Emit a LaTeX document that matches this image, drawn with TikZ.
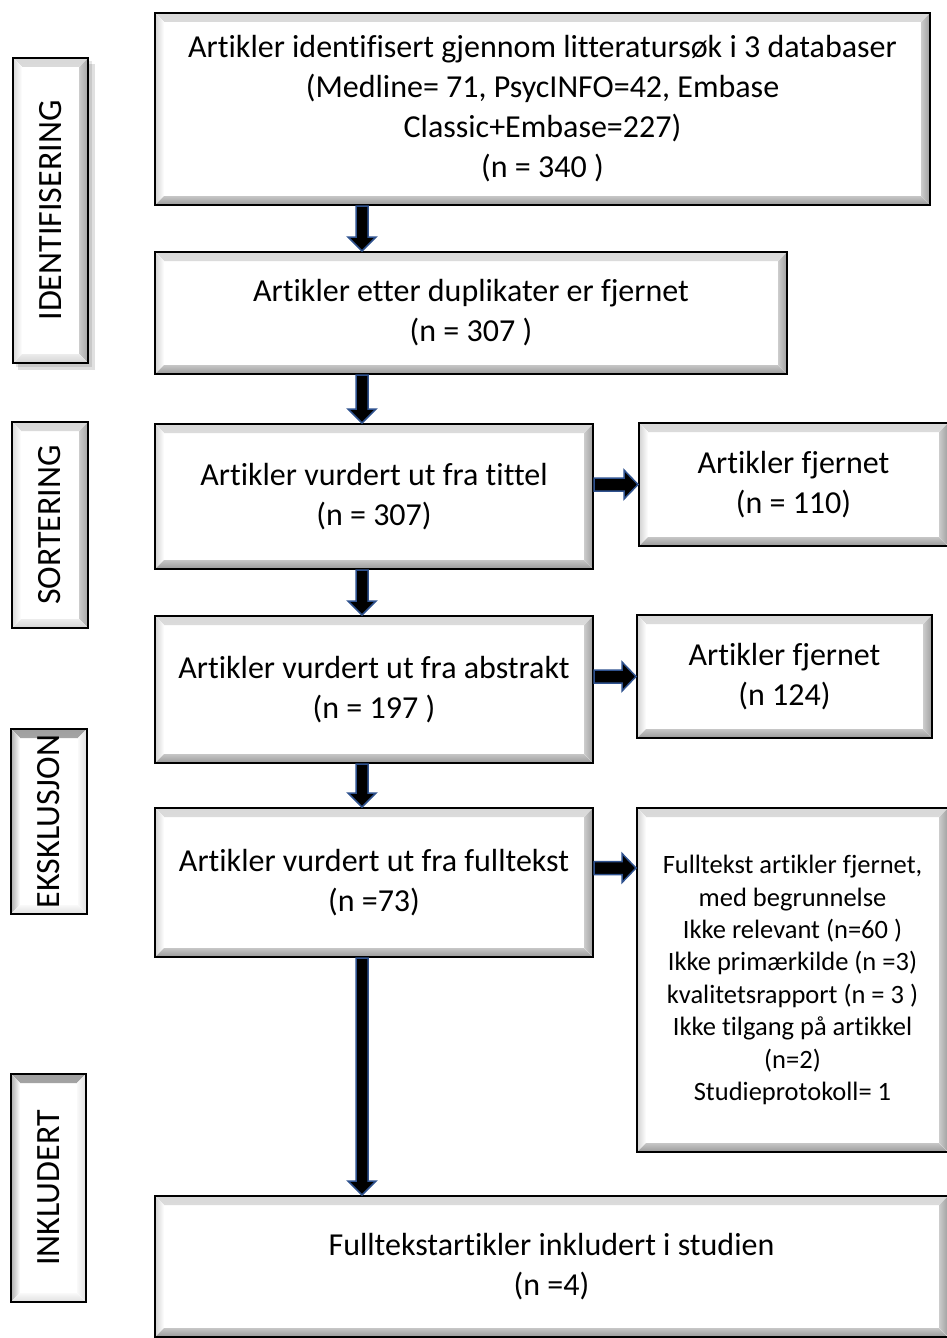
\documentclass[tikz,border=0pt]{standalone}
\usepackage{fontspec}
\setmainfont[Ligatures=NoCommon]{Carlito}
\usetikzlibrary{calc}
\definecolor{arrblue}{HTML}{2F528F}
\newcommand\bw{9pt}
\newcommand\bevelpic[6]{%
 \fill[top color=#1, bottom color=white] let \p1=(path picture bounding box.north west), \p2=(path picture bounding box.south east) in (\x1,\y1) -- (\x2,\y1) -- (\x2-\bw,\y1-\bw) -- (\x1+\bw,\y1-\bw) -- cycle;
 \fill[left color=#2, right color=white] let \p1=(path picture bounding box.north west), \p2=(path picture bounding box.south east) in (\x1,\y1) -- (\x1+\bw,\y1-\bw) -- (\x1+\bw,\y2+\bw) -- (\x1,\y2) -- cycle;
 \fill[left color=#3, right color=#4] let \p1=(path picture bounding box.north west), \p2=(path picture bounding box.south east) in (\x2,\y1) -- (\x2-\bw,\y1-\bw) -- (\x2-\bw,\y2+\bw) -- (\x2,\y2) -- cycle;
 \fill[top color=#5, bottom color=#6] let \p1=(path picture bounding box.north west), \p2=(path picture bounding box.south east) in (\x1,\y2) -- (\x1+\bw,\y2+\bw) -- (\x2-\bw,\y2+\bw) -- (\x2,\y2) -- cycle;
}
\newcommand\fatdown[2]{\filldraw[fatarr] let \p1=(#1), \p2=(#2) in (\x1-6pt,\y1) -- (\x1-6pt,\y2+14pt) -- (\x1-14pt,\y2+14pt) -- (\x1,\y2) -- (\x1+14pt,\y2+14pt) -- (\x1+6pt,\y2+14pt) -- (\x1+6pt,\y1) -- cycle;}
\newcommand\fatright[2]{\filldraw[fatarr] let \p1=(#1), \p2=(#2) in (\x1,\y1+6.5pt) -- (\x2-14pt,\y1+6.5pt) -- (\x2-14pt,\y1+14.5pt) -- (\x2,\y1) -- (\x2-14pt,\y1-14.5pt) -- (\x2-14pt,\y1-6.5pt) -- (\x1,\y1-6.5pt) -- cycle;}
\tikzset{
  mainbox/.style={draw=black, line width=2pt, fill=white, align=center, inner sep=0pt,
    font=\fontsize{32}{40}\selectfont,
    path picture={\bevelpic{gray!30}{gray!35}{gray!40}{gray!75}{gray!45}{gray!80}}},
  outlabel/.style={draw=black, line width=2pt, fill=white, inner sep=0pt,
    font=\fontsize{34}{40}\selectfont,
    path picture={\bevelpic{gray!30}{gray!30}{gray!40}{gray!70}{gray!15}{gray!35}}},
  inlabel/.style={draw=black, line width=2pt, fill=white, inner sep=0pt,
    font=\fontsize{34}{40}\selectfont,
    path picture={\bevelpic{gray!75}{gray!65}{gray!5}{gray!25}{gray!5}{gray!25}}},
  fatarr/.style={fill=black, draw=arrblue, line width=1.5pt, line join=miter},
}
\begin{document}
\begin{tikzpicture}[x=1pt,y=-1pt]
\useasboundingbox[fill=white] (0,0) rectangle (946,1338);
\coordinate (ax) at (362,0);
% shadow of first label
\fill[black, opacity=0.12] (18,64) rectangle (95,370);
\fill[black, opacity=0.10] (16,61) rectangle (92,367);
% labels
\node[outlabel, minimum width=75pt, minimum height=305pt] (L1) at (50.5,210.5) {\rotatebox{90}{IDENTIFISERING}};
\node[outlabel, minimum width=76pt, minimum height=206pt] (L2) at (50,525) {\rotatebox{90}{SORTERING}};
\node[inlabel, minimum width=76pt, minimum height=185pt] (L3) at (49,821.5) {\rotatebox{90}{EKSKLUSJON}};
\node[inlabel, minimum width=75pt, minimum height=228pt] (L4) at (48.5,1188) {\rotatebox{90}{INKLUDERT}};
% main boxes
\node[mainbox, minimum width=775pt, minimum height=192pt] (b1) at (542.5,109) {Artikler identifisert gjennom litteratursøk i 3 databaser\\(Medline= 71, PsycINFO=42, Embase\\Classic+Embase=227)\\(n = 340 )};
\node[mainbox, minimum width=632pt, minimum height=122pt] (b2) at (471,313) {Artikler etter duplikater er fjernet\\(n = 307 )};
\node[mainbox, minimum width=438pt, minimum height=145pt] (b3) at (374,496.5) {Artikler vurdert ut fra tittel\\(n = 307)};
\node[mainbox, minimum width=438pt, minimum height=147pt] (b4) at (374,689.5) {Artikler vurdert ut fra abstrakt\\(n = 197 )};
\node[mainbox, minimum width=438pt, minimum height=149pt] (b5) at (374,882.5) {Artikler vurdert ut fra fulltekst\\(n =73)};
\node[mainbox, minimum width=309pt, minimum height=123pt] (f1) at (793.5,484.5) {Artikler fjernet\\(n = 110)};
\node[mainbox, minimum width=295pt, minimum height=123pt] (f2) at (784.5,676.5) {Artikler fjernet\\(n 124)};
\node[mainbox, minimum width=311pt, minimum height=344pt, font=\fontsize{26.5}{32.4}\selectfont] (f3) at (792.5,980) {Fulltekst artikler fjernet,\\med begrunnelse\\Ikke relevant (n=60 )\\Ikke primærkilde (n =3)\\kvalitetsrapport (n = 3 )\\Ikke tilgang på artikkel\\(n=2)\\Studieprotokoll= 1};
\node[mainbox, minimum width=793pt, minimum height=141pt] (b6) at (551.5,1266.5) {Fulltekstartikler inkludert i studien\\(n =4)};
% arrows
\fatdown{b1.south -| ax}{b2.north -| ax}
\fatdown{b2.south -| ax}{b3.north -| ax}
\fatdown{b3.south -| ax}{b4.north -| ax}
\fatdown{b4.south -| ax}{b5.north -| ax}
\fatdown{b5.south -| ax}{b6.north -| ax}
\fatright{b3.east |- f1.west}{f1.west}
\fatright{b4.east |- f2.west}{f2.west}
\coordinate (r3) at ([yshift=14.5pt]b5.east);
\fatright{r3}{f3.west |- r3}
\end{tikzpicture}
\end{document}
